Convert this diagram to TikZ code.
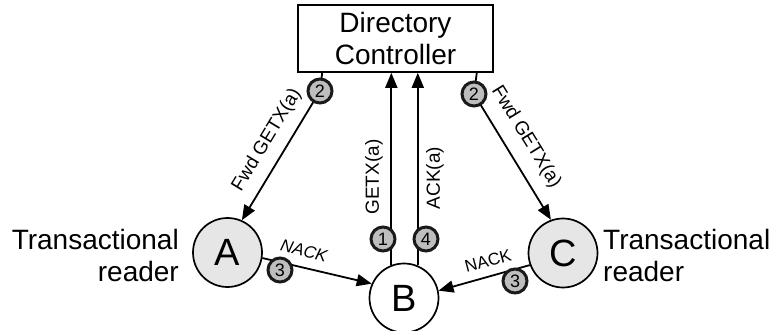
\documentclass[tikz,border=0pt]{standalone}
\usepackage{fontspec}
\setmainfont{Liberation Sans}
\usetikzlibrary{arrows.meta,calc}
\definecolor{nodegray}{HTML}{E6E6E6}
\definecolor{badgegray}{HTML}{BEBEBE}
\definecolor{badgeedge}{HTML}{1A1A1A}

\begin{document}
\begin{tikzpicture}[x=1pt,y=-1pt,
  bigtext/.style={font=\fontsize{28}{32}\selectfont, inner sep=0pt},
  agent/.style={circle, draw, line width=1.7pt, minimum size=69pt, inner sep=0pt,
                font=\fontsize{38}{40}\selectfont},
  badge/.style={circle, draw=badgeedge, fill=badgegray, line width=3pt,
                minimum size=24pt, inner sep=0pt, font=\fontsize{18}{18}\selectfont},
  msg/.style={line width=1.8pt, -{Triangle[length=15pt,width=12pt]}},
  lbl/.style={font=\fontsize{19}{19}\selectfont, inner sep=0pt},
  nack/.style={font=\fontsize{17}{17}\selectfont, inner sep=0pt},
]
\useasboundingbox (0,0) rectangle (774,330);

% directory and the three processors
\node[draw, line width=1.6pt, minimum width=195pt, minimum height=67pt, align=center,
      font=\fontsize{28}{32}\selectfont, inner sep=0pt] (dir) at (395.5,38.5) {Directory\\Controller};
\node[agent, fill=nodegray] (A) at (227.5,252.5) {A};
\node[agent, fill=nodegray] (C) at (563,253) {C};
\node[agent, fill=white] (B) at (404,298) {B};

\node[bigtext, align=right, anchor=east] (ta) at (179,255) {Transactional\\reader};
\node[bigtext, align=left, anchor=west] (tc) at (603,255) {Transactional\\reader};

% message paths
\coordinate (p2l) at (320,91);
\coordinate (p2r) at (474,94);
\draw[msg] ($(dir.south west)+(25,0)$) -- (p2l) -- (A.66);
\draw[msg] ($(dir.south east)+(-17,0)$) -- (p2r) -- (C.110);
\draw[msg] (B.111) -- (B.111 |- dir.south);
\draw[msg] (B.67) -- (B.67 |- dir.south);
\draw[msg] (A.-9) -- (B.156);
\draw[msg] (C.200) -- (B.12);

% message labels
\node[lbl, rotate=58.8] (lfl) at (267,140) {Fwd GETX(a)};
\node[lbl, rotate=-58.3] (lfr) at (526,137) {Fwd GETX(a)};
\node[lbl, rotate=90] (lg) at (374,177) {GETX(a)};
\node[lbl, rotate=90] (lk) at (435,178) {ACK(a)};
\node[nack, rotate=-14, font=\fontsize{17}{17}\selectfont\itshape] (ln1) at (304,251) {NACK};
\node[nack, rotate=15] (ln2) at (488,261) {NACK};

% step numbers
\node[badge] (b2l) at (p2l) {2};
\node[badge] (b2r) at (p2r) {2};
\node[badge] (b1) at (383,239) {1};
\node[badge] (b4) at (426,239) {4};
\node[badge] (b3l) at (280,270) {3};
\node[badge] (b3r) at (515,281) {3};
\end{tikzpicture}
\end{document}
